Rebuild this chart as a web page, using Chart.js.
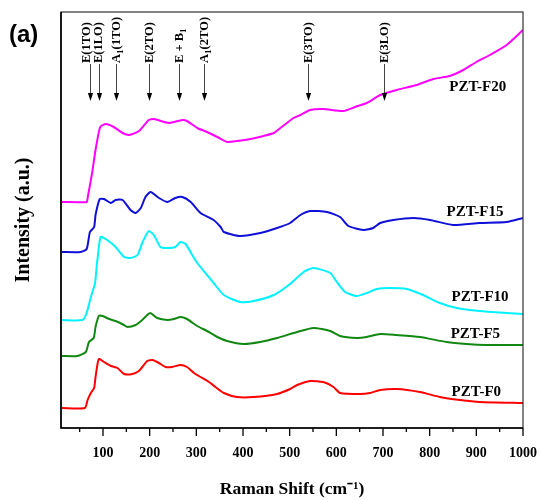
<!DOCTYPE html>
<html><head><meta charset="utf-8">
<script src="https://cdn.jsdelivr.net/npm/chart.js@4"></script>
<style>html,body{margin:0;padding:0;background:#fff}#wrap{width:541px;height:500px}</style>
</head><body><div id="wrap"><canvas id="c" width="541" height="500"></canvas></div>
<script>
// ---- data (Raman shift in cm^-1, intensity in arbitrary units) ----
const shiftF20 = [12,65,67,77,84,94,106,123,142,156,177,198,209,241,270,280,302,323,345,366,387,416,444,466,480,494,508,523,544,572,615,640,665,694,729,772,808,843,872,900,929,965,1000];
const intF20   = [226,226,230,256,278,301,304,301,295,293,297,308,309,305,308,307,300,296,291,286,287,289,292,295,300,305,310,313,318,319,317,321,325,333,338,343,349,352,358,366,373,383,398];
const shiftF15 = [12,52,65,72,81,84,93,102,117,127,142,159,170,181,191,202,220,238,255,270,288,309,337,352,359,394,437,473,501,523,544,580,608,626,658,679,694,722,765,801,850,907,965,1000];
const intF15   = [176,176,179,196,201,213,229,229,225,228,228,218,215,220,231,236,230,226,230,231,226,215,208,201,196,192,195,200,205,213,217,216,211,202,198,200,205,208,210,208,203,205,206,210];
const shiftF10 = [12,56,65,74,83,87,88,95,109,127,145,159,174,184,198,209,223,238,255,266,277,295,302,323,337,359,394,423,466,498,530,551,587,601,619,644,665,687,715,751,786,822,858,907,965,1000];
const intF10   = [108,108,115,131,145,165,168,191,188,181,171,170,173,185,197,193,181,180,181,186,184,170,165,153,145,133,126,127,133,143,156,160,155,146,136,132,135,139,140,139,133,125,120,117,115,114];
const shiftF5  = [12,45,63,70,80,84,91,99,113,127,145,152,170,184,201,216,238,252,266,280,302,323,345,366,401,437,473,516,551,587,608,644,665,694,729,779,836,879,922,1000];
const intF5    = [72,72,76,86,90,101,112,112,109,107,103,101,103,108,115,110,108,109,111,109,102,97,91,87,84,86,90,96,100,97,92,90,91,94,93,91,86,84,83,83];
const shiftF0  = [12,61,67,74,81,84,91,102,117,131,145,163,177,184,195,206,220,234,248,266,280,295,309,327,341,359,387,423,473,501,516,544,572,594,608,651,672,694,729,779,822,865,907,1000];
const intF0    = [20,20,28,35,40,51,69,66,62,60,54,54,57,61,67,68,65,61,61,63,61,55,51,46,41,35,31,31,34,39,43,47,46,41,35,34,35,38,39,36,31,28,26,25];

const seriesNames = ['PZT-F0','PZT-F5','PZT-F10','PZT-F15','PZT-F20'];
const peakLabels  = ['E(1TO)','E(1LO)','A_1(1TO)','E(2TO)','E + B_1','A_1(2TO)','E(3TO)','E(3LO)'];
const peakShifts  = [72, 91, 127, 198, 262, 317, 540, 703];

// ---- layout / style (not data) ----
const seriesColors = ['#ff0000','#118811','#00f2ff','#0f0fd8','#ff00ff'];
const seriesLabelAnchor = [[847,35.5],[845,94],[847,131],[836,216],[842,341]];
const peakTextShiftPx = [-4, -1, 0, 0, 0, 0, 0, 0];
const SERIF = '"Liberation Serif","Times New Roman",serif';

const xs = [shiftF0, shiftF5, shiftF10, shiftF15, shiftF20];
const ys = [intF0, intF5, intF10, intF15, intF20];

const datasets = seriesNames.map((n, i) => ({
  label: n,
  data: xs[i].map((v, k) => ({x: v, y: ys[i][k]})),
  borderColor: seriesColors[i],
  borderWidth: 2,
  pointRadius: 0,
  tension: 0.2,
  fill: false
}));

function drawRich(ctx, label, size) {
  let off = 0;
  for (let i = 0; i < label.length; i++) {
    let ch = label[i];
    if (ch === '_' && i + 1 < label.length) {
      ch = label[++i];
      ctx.font = 'bold ' + Math.round(size * 0.7) + 'px ' + SERIF;
      ctx.fillText(ch, off, size * 0.32);
      off += ctx.measureText(ch).width;
    } else {
      ctx.font = 'bold ' + size + 'px ' + SERIF;
      ctx.fillText(ch, off, 0);
      off += ctx.measureText(ch).width;
    }
  }
}

const decor = {
  id: 'decor',
  afterDraw(chart) {
    const {ctx, chartArea: a, scales: {x, y}} = chart;
    ctx.save();
    // frame
    ctx.strokeStyle = '#333'; ctx.lineWidth = 1.2;
    ctx.strokeRect(a.left, a.top, a.right - a.left, a.bottom - a.top);
    ctx.strokeStyle = '#000'; ctx.lineWidth = 1.6;
    ctx.beginPath(); ctx.moveTo(a.left, a.top); ctx.lineTo(a.left, a.bottom); ctx.lineTo(a.right, a.bottom); ctx.stroke();
    // x ticks (major every 100, minor every 50)
    ctx.lineWidth = 1.3;
    x.ticks.forEach(t => {
      if (t.value < x.min || t.value > x.max) return;
      const px = x.getPixelForValue(t.value);
      const len = t.value % 100 === 0 ? 8 : 4;
      ctx.beginPath(); ctx.moveTo(px, a.bottom); ctx.lineTo(px, a.bottom + len); ctx.stroke();
    });
    // peak assignments with arrows
    const textBottom = 63, tip = 101;
    peakLabels.forEach((lab, i) => {
      const px = Math.round(x.getPixelForValue(peakShifts[i])) + 0.5;
      ctx.strokeStyle = '#444'; ctx.lineWidth = 1;
      ctx.beginPath(); ctx.moveTo(px, textBottom + 1); ctx.lineTo(px, tip - 6); ctx.stroke();
      ctx.fillStyle = '#000';
      ctx.beginPath(); ctx.moveTo(px, tip); ctx.lineTo(px - 2.6, tip - 8); ctx.lineTo(px + 2.6, tip - 8); ctx.closePath(); ctx.fill();
      ctx.save();
      ctx.translate(px + peakTextShiftPx[i], textBottom);
      ctx.rotate(-Math.PI / 2);
      ctx.textAlign = 'left'; ctx.textBaseline = 'middle';
      drawRich(ctx, lab, 12.5);
      ctx.restore();
    });
    // series labels
    ctx.fillStyle = '#000';
    ctx.font = 'bold 15px ' + SERIF;
    ctx.textAlign = 'left'; ctx.textBaseline = 'middle';
    seriesNames.forEach((n, i) => {
      ctx.fillText(n, x.getPixelForValue(seriesLabelAnchor[i][0]), y.getPixelForValue(seriesLabelAnchor[i][1]));
    });
    // panel label
    ctx.font = 'bold 24px "Liberation Sans", Arial, sans-serif';
    ctx.textBaseline = 'alphabetic';
    ctx.fillText('(a)', 9, 42);
    ctx.restore();
  }
};

new Chart(document.getElementById('c'), {
  type: 'line',
  data: {datasets},
  options: {
    responsive: false,
    animation: false,
    devicePixelRatio: 1,
    layout: {padding: {left: 0, right: 18, top: 12, bottom: 0}},
    plugins: {legend: {display: false}, tooltip: {enabled: false}},
    scales: {
      x: {
        type: 'linear', min: 10, max: 1000,
        border: {display: false},
        grid: {display: false},
        ticks: {
          stepSize: 50, includeBounds: false, autoSkip: false, maxRotation: 0,
          padding: 9, color: '#000',
          font: {family: SERIF, weight: 'bold', size: 14},
          callback: v => (v % 100 === 0 ? String(v) : '')
        },
        title: {display: true, text: 'Raman Shift (cm⁻¹)', color: '#000',
          font: {family: SERIF, weight: 'bold', size: 17.5}, padding: {top: 3, bottom: 0}},
        afterFit(s) { s.height = 72; s.paddingLeft = 0; s.paddingRight = 0; }
      },
      y: {
        min: 0, max: 416,
        border: {display: false},
        grid: {display: false},
        ticks: {display: false},
        title: {display: true, text: 'Intensity (a.u.)', color: '#000',
          font: {family: SERIF, weight: 'bold', size: 20}, padding: {top: 12, bottom: 0}},
        afterFit(s) { s.width = 61; s.paddingTop = 0; s.paddingBottom = 0; }
      }
    }
  },
  plugins: [decor]
});
</script></body></html>
